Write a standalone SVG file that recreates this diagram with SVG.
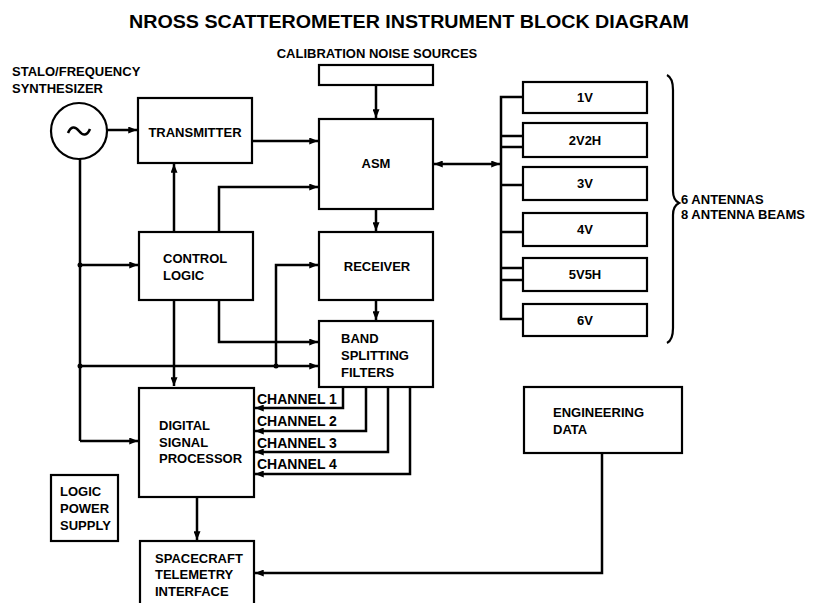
<svg xmlns="http://www.w3.org/2000/svg" width="817" height="603" viewBox="0 0 817 603">
<defs>
<style>
text{font-family:"Liberation Sans",Arial,sans-serif;font-weight:bold;font-size:13px;fill:#000}
.c{text-anchor:middle}
.t{font-size:18px}
.ch{font-size:14px}
.box{fill:#fff;stroke:#000;stroke-width:2.2}
.ln{fill:none;stroke:#000;stroke-width:2.5}
.ar{marker-end:url(#ah)}
</style>
<marker id="ah" viewBox="0 0 10 8" refX="10" refY="4" markerWidth="9" markerHeight="7" markerUnits="userSpaceOnUse" orient="auto-start-reverse"><path d="M0,0 L10,4 L0,8 z" fill="#000"/></marker>
</defs>
<rect width="817" height="603" fill="#fff"/>
<text class="c t" x="409" y="28" textLength="560" lengthAdjust="spacingAndGlyphs">NROSS SCATTEROMETER INSTRUMENT BLOCK DIAGRAM</text>

<g id="connectors">
<path class="ln ar" d="M107,130 H137"/>
<path class="ln ar" d="M252,141 H318"/>
<path class="ln ar" d="M376,85 V118"/>
<path class="ln ar" d="M174,232 V164"/>
<path class="ln ar" d="M219,232 V187 H318"/>
<path class="ln ar" d="M376,209 V231"/>
<path class="ln ar" d="M376,300 V320"/>
<path class="ln" d="M80,159 V441"/>
<path class="ln ar" d="M80,441 H138"/>
<path class="ln ar" d="M80,265 H138"/>
<path class="ln ar" d="M80,366 H318"/>
<path class="ln ar" d="M276,366 V265 H318"/>
<path class="ln ar" d="M219,300 V342 H318"/>
<path class="ln ar" d="M174,300 V386"/>
<path class="ln ar" d="M343,387 V408 H255"/>
<path class="ln ar" d="M366,387 V431 H255"/>
<path class="ln ar" d="M388,387 V452 H255"/>
<path class="ln ar" d="M410,387 V474 H255"/>
<path class="ln ar" d="M197,497 V540"/>
<path class="ln ar" d="M602,453 V573 H255"/>
<path class="ln" d="M434,164 H500" marker-start="url(#ah)" marker-end="url(#ah)"/>
<path class="ln" d="M523,97 H501 V319 H523 M501,136 H523 M501,147 H523 M501,185 H523 M501,232 H523 M501,268 H523 M501,280 H523"/>
<circle cx="80" cy="265" r="2.5"/>
<circle cx="80" cy="366" r="2.5"/>
<circle cx="276" cy="366" r="2.5"/>
</g>

<g id="stalo">
<circle cx="79" cy="131" r="28" fill="#fff" stroke="#000" stroke-width="2.2"/>
<path d="M68,133 C71,126 75,126 79,131 S87,136 90,129" fill="none" stroke="#000" stroke-width="2.6"/>
<text x="12" y="76">STALO/FREQUENCY</text>
<text x="12" y="93">SYNTHESIZER</text>
</g>
<g id="transmitter">
<rect class="box" x="138" y="98" width="114" height="65"/>
<text class="c" x="195" y="137">TRANSMITTER</text>
</g>
<g id="calibration">
<text class="c" x="377" y="58">CALIBRATION NOISE SOURCES</text>
<rect class="box" x="319" y="65" width="114" height="20"/>
</g>
<g id="asm">
<rect class="box" x="319" y="119" width="114" height="90"/>
<text class="c" x="376" y="168">ASM</text>
</g>
<g id="control-logic">
<rect class="box" x="139" y="232" width="114" height="68"/>
<text x="163" y="263">CONTROL</text>
<text x="163" y="280">LOGIC</text>
</g>
<g id="receiver">
<rect class="box" x="319" y="232" width="114" height="68"/>
<text class="c" x="377" y="271">RECEIVER</text>
</g>
<g id="band-splitting-filters">
<rect class="box" x="319" y="321" width="114" height="66"/>
<text x="341" y="343">BAND</text>
<text x="341" y="360">SPLITTING</text>
<text x="341" y="377">FILTERS</text>
</g>
<g id="channel-labels">
<text class="ch" x="257" y="404">CHANNEL 1</text>
<text class="ch" x="257" y="426">CHANNEL 2</text>
<text class="ch" x="257" y="448">CHANNEL 3</text>
<text class="ch" x="257" y="469">CHANNEL 4</text>
</g>
<g id="dsp">
<rect class="box" x="139" y="388" width="115" height="109"/>
<text x="159" y="430">DIGITAL</text>
<text x="159" y="447">SIGNAL</text>
<text x="159" y="463">PROCESSOR</text>
</g>
<g id="logic-power-supply">
<rect class="box" x="51" y="475" width="67" height="66"/>
<text x="60" y="496">LOGIC</text>
<text x="60" y="513">POWER</text>
<text x="60" y="530">SUPPLY</text>
</g>
<g id="spacecraft-telemetry-interface">
<rect class="box" x="140" y="541" width="114" height="75"/>
<text x="155" y="563">SPACECRAFT</text>
<text x="155" y="579">TELEMETRY</text>
<text x="155" y="596">INTERFACE</text>
</g>
<g id="engineering-data">
<rect class="box" x="524" y="387" width="158" height="66"/>
<text x="553" y="417">ENGINEERING</text>
<text x="553" y="434">DATA</text>
</g>
<g id="ant-1v"><rect class="box" x="523" y="82" width="124" height="31"/><text class="c" x="585" y="102">1V</text></g>
<g id="ant-2v2h"><rect class="box" x="523" y="123" width="124" height="34"/><text class="c" x="585" y="145">2V2H</text></g>
<g id="ant-3v"><rect class="box" x="523" y="167" width="124" height="33"/><text class="c" x="585" y="188">3V</text></g>
<g id="ant-4v"><rect class="box" x="523" y="213" width="124" height="33"/><text class="c" x="585" y="234">4V</text></g>
<g id="ant-5v5h"><rect class="box" x="523" y="258" width="124" height="33"/><text class="c" x="585" y="279">5V5H</text></g>
<g id="ant-6v"><rect class="box" x="523" y="304" width="124" height="32"/><text class="c" x="585" y="325">6V</text></g>
<g id="antennas-brace">
<path d="M667,75 Q673,78 673,90 L673,191 Q673,200 679,203 Q673,206 673,215 L673,328 Q673,340 667,343" fill="none" stroke="#000" stroke-width="2.2"/>
<text x="681" y="204">6 ANTENNAS</text>
<text x="681" y="219">8 ANTENNA BEAMS</text>
</g>
</svg>
